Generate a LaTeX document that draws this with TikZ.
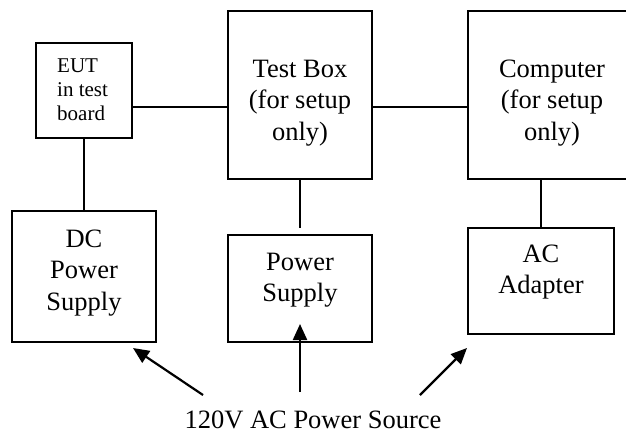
\documentclass[tikz,border=0pt]{standalone}
\usepackage{fontspec}
\setmainfont{Liberation Serif}
\usetikzlibrary{arrows.meta}
\begin{document}
\begin{tikzpicture}[x=1pt,y=-1pt,
  blk/.style={draw,line width=1.7pt,inner sep=0pt,outer sep=0pt,anchor=north west},
  big/.style={inner sep=0pt,align=center,anchor=north,font=\fontsize{26.5}{31.5}\selectfont},
  small/.style={inner sep=0pt,align=left,anchor=north west,font=\fontsize{21}{24}\selectfont},
  wire/.style={line width=1.7pt},
  arr/.style={line width=2.2pt,-{Triangle[length=16pt,width=14pt]}}]
\useasboundingbox (0,0) rectangle (626,432);
% boxes
\node[blk,minimum width=96pt,minimum height=95pt] (eut) at (36,43) {};
\node[blk,minimum width=144pt,minimum height=168pt] (tb) at (228,11) {};
\node[blk,minimum width=168pt,minimum height=168pt] (comp) at (468,11) {};
\node[blk,minimum width=144pt,minimum height=131pt] (dc) at (12,211) {};
\node[blk,minimum width=144pt,minimum height=107pt] (ps) at (228,235) {};
\node[blk,minimum width=146pt,minimum height=106pt] (ac) at (468,228) {};
% texts
\node[small] (eutt) at (57,59) {EUT\\in test\\board};
\node[big] (tbt) at (300,59.5) {Test Box\\(for setup\\only)};
\node[big] (compt) at (552,59.5) {Computer\\(for setup\\only)};
\node[big] (dct) at (84,229.5) {DC\\Power\\Supply};
\node[big] (pst) at (300,252.5) {Power\\Supply};
\node[big] (act) at (541,244.5) {AC\\Adapter};
\node[inner sep=0pt,anchor=base,font=\fontsize{26.5}{31.5}\selectfont] (src) at (313,428.5) {120V AC Power Source};
% connectors
\coordinate (h1) at (0,107);
\coordinate (tbend) at (300,228);
\draw[wire] (eut.east |- h1) -- (tb.west |- h1);
\draw[wire] (tb.east |- h1) -- (comp.west |- h1);
\draw[wire] (eut.south) -- (dc.north);
\draw[wire] (tb.south) -- (tbend);
\draw[wire] (comp.south -| ac.north) -- (ac.north);
% arrows
\coordinate (a1s) at (203,395);
\coordinate (a1e) at (133,348);
\coordinate (a2s) at (300,392);
\coordinate (a2e) at (300,324);
\coordinate (a3s) at (420,395);
\coordinate (a3e) at (467,348);
\draw[arr] (a1s) -- (a1e);
\draw[arr] (a2s) -- (a2e);
\draw[arr] (a3s) -- (a3e);
\end{tikzpicture}
\end{document}
